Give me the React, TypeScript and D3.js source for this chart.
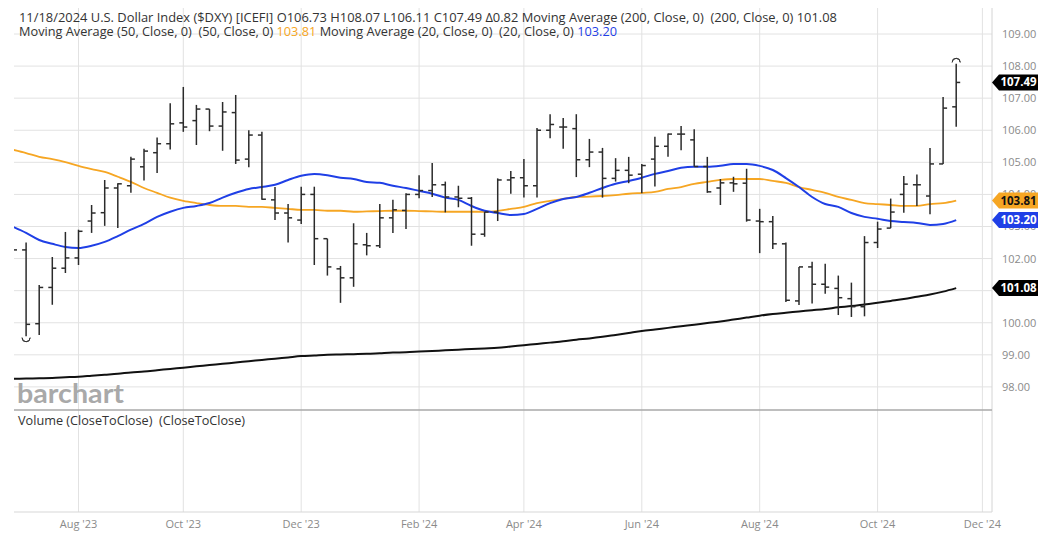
import React from "react";
import * as d3 from "d3";

// ---- Data (weekly bars, week starting Monday; first bar = week of Jul 3, 2023) ----
const firstWeek = "2023-07-03";
const opens = [
  103.0, 102.27, 99.97, 101.1, 101.7, 102.02, 103.17, 103.43, 104.2, 104.27,
  104.86, 105.3, 105.58, 106.23, 106.3, 106.66, 106.13, 106.55, 105.1, 105.85,
  103.83, 103.42, 103.2, 104.0, 102.62, 101.68, 101.4, 102.43, 102.4, 103.27,
  103.5, 104.0, 104.12, 104.3, 103.92, 103.88, 102.76, 103.45, 104.45, 104.52,
  104.27, 106.0, 106.1, 106.05, 105.08, 105.32, 104.5, 104.75, 104.63, 105.1,
  105.5, 105.88, 105.7, 104.87, 104.2, 104.36, 104.35, 103.17, 103.15, 102.46,
  100.68, 101.74, 101.2, 101.07, 100.75, 100.5, 102.5, 102.95, 104.0, 104.3,
  103.95, 104.95, 106.73,
];
const highs = [
  103.55, 102.5, 101.18, 102.05, 102.83, 102.9, 103.67, 104.45, 104.35, 105.17,
  105.42, 105.77, 106.84, 107.35, 106.79, 106.66, 106.88, 107.1, 106.0, 105.95,
  104.23, 103.7, 104.24, 104.24, 102.62, 101.77, 103.1, 102.8, 103.7, 103.83,
  104.04, 104.6, 104.98, 104.4, 104.27, 103.92, 103.45, 104.5, 104.73, 105.1,
  106.07, 106.5, 106.38, 106.5, 105.73, 105.45, 105.13, 105.17, 104.95, 105.8,
  105.9, 106.13, 106.03, 105.17, 104.48, 104.55, 104.8, 103.55, 103.33, 102.5,
  101.74, 101.9, 101.84, 101.47, 101.25, 102.7, 103.15, 103.87, 104.57, 104.62,
  105.45, 107.04, 108.07,
];
const lows = [
  102.2, 99.58, 99.62, 100.56, 101.55, 101.8, 102.8, 103.02, 102.95, 104.05,
  104.43, 104.67, 105.4, 105.95, 105.54, 105.97, 105.36, 104.95, 104.85, 103.83,
  103.2, 102.5, 103.08, 101.8, 101.47, 100.62, 101.12, 102.1, 102.33, 102.8,
  102.92, 103.88, 103.92, 103.44, 103.6, 102.4, 102.68, 103.17, 104.02, 103.9,
  103.9, 105.75, 105.42, 104.54, 104.85, 103.9, 104.4, 104.35, 104.04, 104.25,
  105.17, 105.38, 104.87, 104.05, 103.67, 104.08, 103.15, 102.17, 102.3, 100.65,
  100.55, 100.6, 100.9, 100.24, 100.18, 100.2, 102.33, 102.95, 103.43, 103.64,
  103.38, 104.95, 106.11,
];
const closes = [
  102.27, 99.95, 101.1, 101.7, 102.02, 102.85, 103.42, 104.2, 104.33, 105.1,
  105.35, 105.58, 106.2, 106.1, 106.66, 106.13, 106.57, 105.07, 105.85, 103.85,
  103.42, 103.27, 104.0, 102.62, 101.74, 101.4, 102.46, 102.4, 103.27, 103.52,
  104.0, 104.12, 104.3, 103.92, 103.88, 102.76, 103.45, 104.45, 104.52, 104.27,
  106.0, 106.18, 106.1, 105.08, 105.32, 104.5, 104.75, 104.6, 104.9, 105.5,
  105.88, 105.88, 104.87, 104.08, 104.36, 104.33, 103.2, 103.15, 102.46, 100.7,
  101.74, 101.2, 101.11, 100.78, 100.5, 102.5, 102.92, 103.45, 104.32, 104.3,
  104.95, 106.69, 107.49,
];
const ma20 = [
  102.99, 102.8, 102.58, 102.46, 102.36, 102.33, 102.4, 102.52, 102.7, 102.9,
  103.08, 103.3, 103.46, 103.58, 103.64, 103.73, 103.9, 104.05, 104.17, 104.23,
  104.3, 104.45, 104.58, 104.64, 104.6, 104.52, 104.48, 104.39, 104.36, 104.27,
  104.2, 104.11, 104.02, 103.9, 103.83, 103.64, 103.49, 103.42, 103.36, 103.39,
  103.55, 103.73, 103.86, 103.92, 104.05, 104.2, 104.33, 104.42, 104.52, 104.64,
  104.73, 104.83, 104.86, 104.86, 104.89, 104.95, 104.95, 104.89, 104.76, 104.51,
  104.23, 103.92, 103.7, 103.61, 103.42, 103.3, 103.24, 103.17, 103.14, 103.11,
  103.05, 103.08, 103.2,
];
const ma50 = [
  105.39, 105.29, 105.17, 105.1, 105.01, 104.89, 104.79, 104.7, 104.55, 104.39,
  104.2, 104.05, 103.9, 103.8, 103.73, 103.67, 103.64, 103.64, 103.61, 103.61,
  103.58, 103.55, 103.52, 103.52, 103.49, 103.49, 103.46, 103.47, 103.48, 103.49,
  103.49, 103.48, 103.47, 103.46, 103.46, 103.46, 103.46, 103.49, 103.55, 103.61,
  103.73, 103.8, 103.86, 103.92, 103.93, 103.95, 103.98, 104.02, 104.05, 104.08,
  104.17, 104.23, 104.33, 104.39, 104.45, 104.48, 104.48, 104.48, 104.42, 104.36,
  104.23, 104.14, 104.05, 103.92, 103.83, 103.73, 103.7, 103.67, 103.64, 103.64,
  103.7, 103.73, 103.81,
];
const ma200 = [
  98.25, 98.26, 98.27, 98.28, 98.3, 98.32, 98.35, 98.38, 98.41, 98.45,
  98.48, 98.52, 98.56, 98.6, 98.64, 98.68, 98.72, 98.76, 98.8, 98.84,
  98.88, 98.92, 98.96, 98.98, 99.0, 99.01, 99.02, 99.03, 99.05, 99.07,
  99.08, 99.1, 99.12, 99.14, 99.16, 99.18, 99.2, 99.22, 99.26, 99.3,
  99.34, 99.38, 99.42, 99.47, 99.51, 99.56, 99.62, 99.68, 99.74, 99.79,
  99.84, 99.89, 99.94, 99.99, 100.04, 100.1, 100.16, 100.22, 100.27, 100.31,
  100.35, 100.39, 100.43, 100.48, 100.52, 100.57, 100.62, 100.68, 100.74, 100.81,
  100.88, 100.97, 101.08,
];
const xTickDates = [
  "2023-08-07", "2023-10-02", "2023-12-04", "2024-02-05", "2024-04-01",
  "2024-06-03", "2024-08-05", "2024-10-07", "2024-12-02",
];
const xTickLabels = [
  "Aug '23", "Oct '23", "Dec '23", "Feb '24", "Apr '24",
  "Jun '24", "Aug '24", "Oct '24", "Dec '24",
];
const yTickValues = [98, 99, 100, 101, 102, 103, 104, 105, 106, 107, 108, 109];

const titleLine1 =
  "11/18/2024 U.S. Dollar Index ($DXY) [ICEFI] O106.73 H108.07 L106.11 C107.49 \u03940.82 Moving Average (200, Close, 0)  (200, Close, 0) 101.08";

// ---- Layout ----
const W = 1051;
const H = 539;
const plotLeft = 14;
const plotRight = 992;
const plotTop = 8;
const priceBottom = 410;
const volBottom = 512;

const ORANGE = "#f6a623";
const BLUE = "#1f3fe6";
const GRID = "#e2e2e2";
const BAR = "#2b2b2b";

const parse = d3.timeParse("%Y-%m-%d");

export default function App() {
  const start = parse(firstWeek) as Date;
  const dates = opens.map((_, i) => d3.timeDay.offset(start, 7 * i));
  const x = d3
    .scaleTime()
    .domain([start, parse("2024-12-02") as Date])
    .range([13, 982.4]);
  const y = d3.scaleLinear().domain([98, 109]).range([386.9, 34]);

  const line = d3
    .line<number>()
    .x((_, i) => x(dates[i]))
    .y((d) => y(d))
    .curve(d3.curveMonotoneX);

  const last = opens.length - 1;
  const minIdx = d3.minIndex(lows);
  const maxIdx = d3.maxIndex(highs);

  const tagValues = [closes[last], ma50[last], ma20[last], ma200[last]];
  // y labels fully hidden behind a value tag in the reference are not drawn
  const visibleYTicks = yTickValues.filter(
    (v) => !tagValues.some((t) => Math.abs(y(t) - y(v)) < 4)
  );

  const tag = (v: number, fill: string, textFill: string, key: string) => {
    const cy = y(v);
    const p = `M992,${cy} L999,${cy - 8} L1038,${cy - 8} L1038,${cy + 8} L999,${cy + 8} Z`;
    return (
      <g key={key}>
        <path d={p} fill={fill} />
        <text
          x={1018.5}
          y={cy + 4}
          textAnchor="middle"
          fontSize={11.5}
          fontWeight={700}
          fill={textFill}
          fontFamily="'Open Sans', sans-serif"
        >
          {v.toFixed(2)}
        </text>
      </g>
    );
  };

  const tickDates = xTickDates.map((d) => parse(d) as Date);

  return (
    <div style={{ position: "absolute", left: 0, top: 0 }}>
      <svg width={W} height={H} style={{ display: "block", background: "#fff" }}>
        <defs>
          <clipPath id="plotClip">
            <rect x={plotLeft} y={plotTop} width={plotRight - plotLeft} height={priceBottom - plotTop} />
          </clipPath>
        </defs>

        {/* horizontal gridlines */}
        {yTickValues.map((v) => (
          <line key={"hg" + v} x1={plotLeft} x2={plotRight} y1={y(v)} y2={y(v)} stroke={GRID} strokeWidth={1} />
        ))}
        {/* vertical gridlines */}
        {tickDates.map((d, i) => (
          <line key={"vg" + i} x1={x(d)} x2={x(d)} y1={plotTop} y2={volBottom} stroke={GRID} strokeWidth={1} />
        ))}
        {/* borders */}
        <line x1={plotRight} x2={plotRight} y1={plotTop} y2={volBottom} stroke="#d4d4d4" strokeWidth={1} />
        <line x1={plotLeft} x2={plotRight} y1={volBottom} y2={volBottom} stroke="#d8d8d8" strokeWidth={1.2} />
        <line x1={plotLeft} x2={plotRight} y1={priceBottom} y2={priceBottom} stroke="#a8a8a8" strokeWidth={1.6} />

        {/* watermark */}
        <text
          x={17}
          y={403}
          fontSize={26}
          fontWeight={700}
          fill="#a9a9a9"
          fontFamily="'Lato', sans-serif"
          textLength={107}
          lengthAdjust="spacingAndGlyphs"
        >
          barchart
        </text>

        <g clipPath="url(#plotClip)">
          {/* moving averages */}
          <path d={line(ma200) || ""} fill="none" stroke="#111" strokeWidth={2} />
          <path d={line(ma50) || ""} fill="none" stroke={ORANGE} strokeWidth={1.8} />
          <path d={line(ma20) || ""} fill="none" stroke={BLUE} strokeWidth={2} />

          {/* OHLC bars */}
          {opens.map((o, i) => {
            const cx = x(dates[i]);
            return (
              <g key={"b" + i} stroke={BAR} strokeWidth={1.5}>
                <line x1={cx} x2={cx} y1={y(highs[i])} y2={y(lows[i])} />
                <line x1={cx - 4} x2={cx} y1={y(o)} y2={y(o)} />
                <line x1={cx} x2={cx + 4} y1={y(closes[i])} y2={y(closes[i])} />
              </g>
            );
          })}

          {/* high / low markers */}
          <path
            d={d3.arc()({
              innerRadius: 4,
              outerRadius: 4,
              startAngle: Math.PI / 2,
              endAngle: (3 * Math.PI) / 2,
            }) || ""}
            transform={`translate(${x(dates[minIdx])},${y(lows[minIdx]) + 1.5})`}
            fill="none"
            stroke="#333"
            strokeWidth={1}
          />
          <path
            d={d3.arc()({
              innerRadius: 4,
              outerRadius: 4,
              startAngle: -Math.PI / 2,
              endAngle: Math.PI / 2,
            }) || ""}
            transform={`translate(${x(dates[maxIdx])},${y(highs[maxIdx]) - 1.5})`}
            fill="none"
            stroke="#333"
            strokeWidth={1}
          />
        </g>

        {/* y axis labels */}
        {visibleYTicks.map((v) => (
          <text
            key={"yl" + v}
            x={1002}
            y={y(v) + 4}
            fontSize={11}
            fill="#8a8a8a"
            fontFamily="'Open Sans', sans-serif"
          >
            {v.toFixed(2)}
          </text>
        ))}

        {/* last value tags */}
        {tag(closes[last], "#000", "#fff", "tc")}
        {tag(ma50[last], ORANGE, "#111", "t50")}
        {tag(ma20[last], BLUE, "#fff", "t20")}
        {tag(ma200[last], "#000", "#fff", "t200")}

        {/* x axis labels */}
        {tickDates.map((d, i) => (
          <text
            key={"xl" + i}
            x={x(d)}
            y={528}
            textAnchor="middle"
            fontSize={11}
            fill="#8a8a8a"
            fontFamily="'Open Sans', sans-serif"
          >
            {xTickLabels[i]}
          </text>
        ))}

        {/* titles */}
        <text
          x={19}
          y={21.5}
          fontSize={12.5}
          fill="#333"
          fontFamily="'Open Sans', sans-serif"
          textLength={818}
          lengthAdjust="spacingAndGlyphs"
          style={{ whiteSpace: "pre" }}
        >
          {titleLine1}
        </text>
        <text
          x={19}
          y={35.5}
          fontSize={12.5}
          fill="#333"
          fontFamily="'Open Sans', sans-serif"
          textLength={598}
          lengthAdjust="spacingAndGlyphs"
          style={{ whiteSpace: "pre" }}
        >
          {"Moving Average (50, Close, 0)  (50, Close, 0) "}
          <tspan fill={ORANGE}>{ma50[last].toFixed(2)}</tspan>
          {" Moving Average (20, Close, 0)  (20, Close, 0) "}
          <tspan fill={BLUE}>{ma20[last].toFixed(2)}</tspan>
        </text>

        <text
          x={18}
          y={425}
          fontSize={12}
          fill="#333"
          fontFamily="'Open Sans', sans-serif"
          textLength={227}
          lengthAdjust="spacingAndGlyphs"
          style={{ whiteSpace: "pre" }}
        >
          {"Volume (CloseToClose)  (CloseToClose)"}
        </text>
      </svg>
    </div>
  );
}
